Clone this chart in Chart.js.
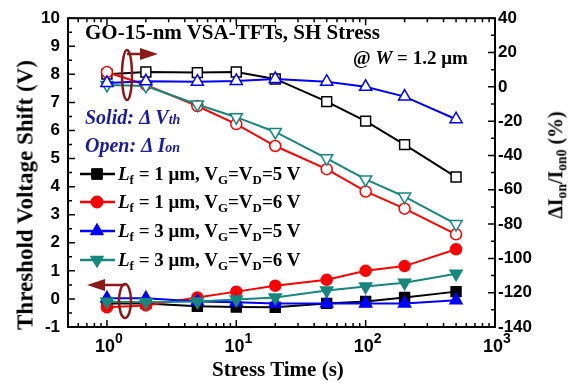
<!DOCTYPE html>
<html>
<head>
<meta charset="utf-8">
<script src="https://cdn.jsdelivr.net/npm/chart.js@4.4.1/dist/chart.umd.min.js"></script>
<style>
  body { margin: 0; background: #fff; }
  #wrap { position: relative; width: 572px; height: 388px; overflow: hidden; }
  #wrap canvas { position: absolute; left: 0; top: 0; }
  .lbl { position: absolute; white-space: nowrap; font-family: "Liberation Serif", serif; font-weight: bold; color: #000; line-height: 1; }
  .lbl sub { font-size: 0.68em; vertical-align: -0.28em; }
  .blue { color: #1c1ca0; font-style: italic; font-size: 20px; }
  .leg { font-size: 19px; }
</style>
</head>
<body>
<div id="wrap">
  <canvas id="chart" width="572" height="388"></canvas>
  <div class="lbl" style="left:85px; top:22px; font-size:21px;">GO-15-nm VSA-TFTs, SH Stress</div>
  <div class="lbl" style="left:353px; top:48px; font-size:19px;">@ <i>W</i> = 1.2 μm</div>
  <div class="lbl blue" style="left:85px; top:107px;">Solid: Δ <span>V</span><span style="font-size:0.7em">th</span></div>
  <div class="lbl blue" style="left:85px; top:135px;">Open: Δ <span>I</span><span style="font-size:0.7em">on</span></div>
  <div class="lbl leg" style="left:118px; top:164px;"><i>L</i><sub>f</sub> = 1 μm, V<sub>G</sub>=V<sub>D</sub>=5 V</div>
  <div class="lbl leg" style="left:118px; top:192px;"><i>L</i><sub>f</sub> = 1 μm, V<sub>G</sub>=V<sub>D</sub>=6 V</div>
  <div class="lbl leg" style="left:118px; top:221px;"><i>L</i><sub>f</sub> = 3 μm, V<sub>G</sub>=V<sub>D</sub>=5 V</div>
  <div class="lbl leg" style="left:118px; top:250px;"><i>L</i><sub>f</sub> = 3 μm, V<sub>G</sub>=V<sub>D</sub>=6 V</div>
  <div class="lbl" style="left:212px; top:359px; font-size:21px;">Stress Time (s)</div>
  <div class="lbl" style="left:25px; top:195px; font-size:23px; transform: translate(-50%,-50%) rotate(-90deg);">Threshold Voltage Shift (V)</div>
  <div class="lbl" style="left:557px; top:165px; font-size:20px; transform: translate(-50%,-50%) rotate(-90deg);">ΔI<sub>on</sub>/I<sub>on0</sub> (%)</div>
</div>
<script>
const times = [1, 2, 5, 10, 20, 50, 100, 200, 500];

// threshold voltage shift (V), left axis, solid markers
const dvth_lf1_5v = [-0.16, -0.16, -0.26, -0.29, -0.30, -0.16, -0.09, 0.05, 0.26];
const dvth_lf1_6v = [-0.30, -0.23, 0.05, 0.26, 0.47, 0.68, 1.00, 1.17, 1.77];
const dvth_lf3_5v = [0.02, 0.02, -0.09, -0.12, -0.16, -0.16, -0.16, -0.16, -0.05];
const dvth_lf3_6v = [-0.10, -0.12, -0.09, -0.02, 0.05, 0.30, 0.44, 0.58, 0.90];

// on-current change (%), right axis, open markers
const dion_lf1_5v = [7.4, 8.6, 8.3, 8.6, 4.6, -8.6, -20, -33.7, -52.6];
const dion_lf1_6v = [8.6, 1.1, -11.2, -21.7, -34.5, -48, -61, -71, -86];
const dion_lf3_5v = [2.3, 3.2, 3, 3.4, 4.6, 3, 0, -5.7, -18.9];
const dion_lf3_6v = [1.1, 0.5, -10.3, -17.7, -26.3, -41.7, -54, -64, -80];

const xTickValues = [1, 10, 100, 1000];
const xTickLabels = ['10', '10', '10', '10'];
const xTickExps = ['0', '1', '2', '3'];

const BLACK = '#000000', RED = '#ff0000', BLUE = '#0000ff', TEAL = '#16877d';

const styles = [
    { color: BLACK, pointStyle: 'rect', radius: 7, rotation: 0 },
    { color: RED, pointStyle: 'circle', radius: 5.5, rotation: 0 },
    { color: BLUE, pointStyle: 'triangle', radius: 7, rotation: 0 },
    { color: TEAL, pointStyle: 'triangle', radius: 7, rotation: 180 }
];

function pts(values) {
    return times.map((t, i) => ({ x: t, y: values[i] }));
}

function makeSet(values, s, solid, axis) {
    return {
        data: pts(values),
        yAxisID: axis,
        borderColor: s.color,
        borderWidth: 2,
        backgroundColor: solid ? s.color : '#ffffff',
        pointBackgroundColor: solid ? s.color : '#ffffff',
        pointBorderColor: s.color,
        pointBorderWidth: 1.5,
        pointStyle: s.pointStyle,
        pointRadius: s.radius,
        pointRotation: s.rotation,
        fill: false,
        tension: 0
    };
}

// first entry ends up on top
const datasets = [
    makeSet(dvth_lf3_6v, styles[3], true, 'y'),
    makeSet(dvth_lf3_5v, styles[2], true, 'y'),
    makeSet(dvth_lf1_6v, styles[1], true, 'y'),
    makeSet(dvth_lf1_5v, styles[0], true, 'y'),
    makeSet(dion_lf3_5v, styles[2], false, 'y1'),
    makeSet(dion_lf3_6v, styles[3], false, 'y1'),
    makeSet(dion_lf1_6v, styles[1], false, 'y1'),
    makeSet(dion_lf1_5v, styles[0], false, 'y1')
];

function drawArrow(ctx, x1, y1, x2, y2) {
    const dir = Math.sign(x2 - x1);
    ctx.beginPath();
    ctx.moveTo(x1, y1);
    ctx.lineTo(x2 - dir * 12, y2);
    ctx.stroke();
    ctx.beginPath();
    ctx.moveTo(x2, y2);
    ctx.lineTo(x2 - dir * 18, y2 - 6);
    ctx.lineTo(x2 - dir * 18, y2 + 6);
    ctx.closePath();
    ctx.fill();
}

const framePlugin = {
    id: 'frame',
    afterDatasetsDraw(chart) {
        const ctx = chart.ctx;
        const a = chart.chartArea;
        const sx = chart.scales.x, sy = chart.scales.y, sy1 = chart.scales.y1;
        ctx.save();
        ctx.strokeStyle = '#000';
        ctx.lineWidth = 2;
        ctx.strokeRect(a.left, a.top, a.right - a.left, a.bottom - a.top);

        // inner ticks, log x
        ctx.lineWidth = 1.5;
        ctx.beginPath();
        for (let d = 0.1; d <= 100; d *= 10) {
            for (let m = 1; m <= 9; m++) {
                const v = m * d;
                if (v < 0.5 || v > 1000) continue;
                const px = sx.getPixelForValue(v);
                const len = m === 1 ? 7 : 4;
                ctx.moveTo(px, a.bottom); ctx.lineTo(px, a.bottom - len);
                ctx.moveTo(px, a.top); ctx.lineTo(px, a.top + len);
            }
        }
        // left axis ticks
        for (let v = -1; v <= 10; v += 0.5) {
            const py = sy.getPixelForValue(v);
            const len = Number.isInteger(v) ? 7 : 4;
            ctx.moveTo(a.left, py); ctx.lineTo(a.left + len, py);
        }
        // right axis ticks
        for (let v = -140; v <= 40; v += 10) {
            const py = sy1.getPixelForValue(v);
            const len = v % 20 === 0 ? 7 : 4;
            ctx.moveTo(a.right, py); ctx.lineTo(a.right - len, py);
        }
        ctx.stroke();

        // x tick labels with exponents
        ctx.fillStyle = '#000';
        ctx.textBaseline = 'alphabetic';
        xTickValues.forEach((v, i) => {
            const px = sx.getPixelForValue(v);
            ctx.font = 'bold 18px "Liberation Sans", Arial, sans-serif';
            const w1 = ctx.measureText(xTickLabels[i]).width;
            ctx.font = 'bold 14px "Liberation Sans", Arial, sans-serif';
            const w2 = ctx.measureText(xTickExps[i]).width;
            const x0 = px - (w1 + w2) / 2 + 2;
            ctx.font = 'bold 18px "Liberation Sans", Arial, sans-serif';
            ctx.fillText(xTickLabels[i], x0, 352);
            ctx.font = 'bold 14px "Liberation Sans", Arial, sans-serif';
            ctx.fillText(xTickExps[i], x0 + w1, 343);
        });

        // legend symbols
        const legendY = [174, 202, 231, 260];
        styles.forEach((s, i) => {
            ctx.strokeStyle = s.color;
            ctx.fillStyle = s.color;
            ctx.lineWidth = 2.5;
            ctx.beginPath();
            ctx.moveTo(80, legendY[i]);
            ctx.lineTo(115, legendY[i]);
            ctx.stroke();
            ctx.lineWidth = 1;
            Chart.helpers.drawPoint(ctx, {
                pointStyle: s.pointStyle, radius: s.radius + 0.5, rotation: s.rotation, borderWidth: 1
            }, 97, legendY[i]);
            ctx.fill();
        });

        // axis indicators
        ctx.strokeStyle = '#8b1a1a';
        ctx.fillStyle = '#8b1a1a';
        ctx.lineWidth = 2.5;
        ctx.beginPath();
        ctx.ellipse(127, 75, 5, 25, 0, 0, Math.PI * 2);
        ctx.stroke();
        drawArrow(ctx, 127, 54, 158, 54);
        ctx.beginPath();
        ctx.ellipse(125, 301, 6, 17, 0, 0, Math.PI * 2);
        ctx.stroke();
        drawArrow(ctx, 125, 285, 87, 285);
        ctx.restore();
    }
};

const tickFont = { family: '"Liberation Sans", Arial, sans-serif', size: 17, weight: 'bold' };

new Chart(document.getElementById('chart'), {
    type: 'line',
    data: { datasets: datasets },
    options: {
        responsive: false,
        animation: false,
        layout: { padding: { top: 13, left: 0, right: 0, bottom: 0 } },
        plugins: { legend: { display: false }, tooltip: { enabled: false } },
        scales: {
            x: {
                type: 'logarithmic',
                min: 0.5,
                max: 1000,
                grid: { display: false, drawTicks: false },
                border: { display: false },
                ticks: { display: false },
                afterFit(scale) { scale.height = 61; }
            },
            y: {
                position: 'left',
                min: -1,
                max: 10,
                grid: { display: false, drawTicks: false },
                border: { display: false },
                ticks: { stepSize: 1, color: '#000', font: tickFont, padding: 8 },
                afterFit(scale) { scale.width = 68; }
            },
            y1: {
                position: 'right',
                min: -140,
                max: 40,
                grid: { display: false, drawTicks: false },
                border: { display: false },
                ticks: { stepSize: 20, color: '#000', font: tickFont, padding: 3 },
                afterFit(scale) { scale.width = 77; }
            }
        }
    },
    plugins: [framePlugin]
});
</script>
</body>
</html>
